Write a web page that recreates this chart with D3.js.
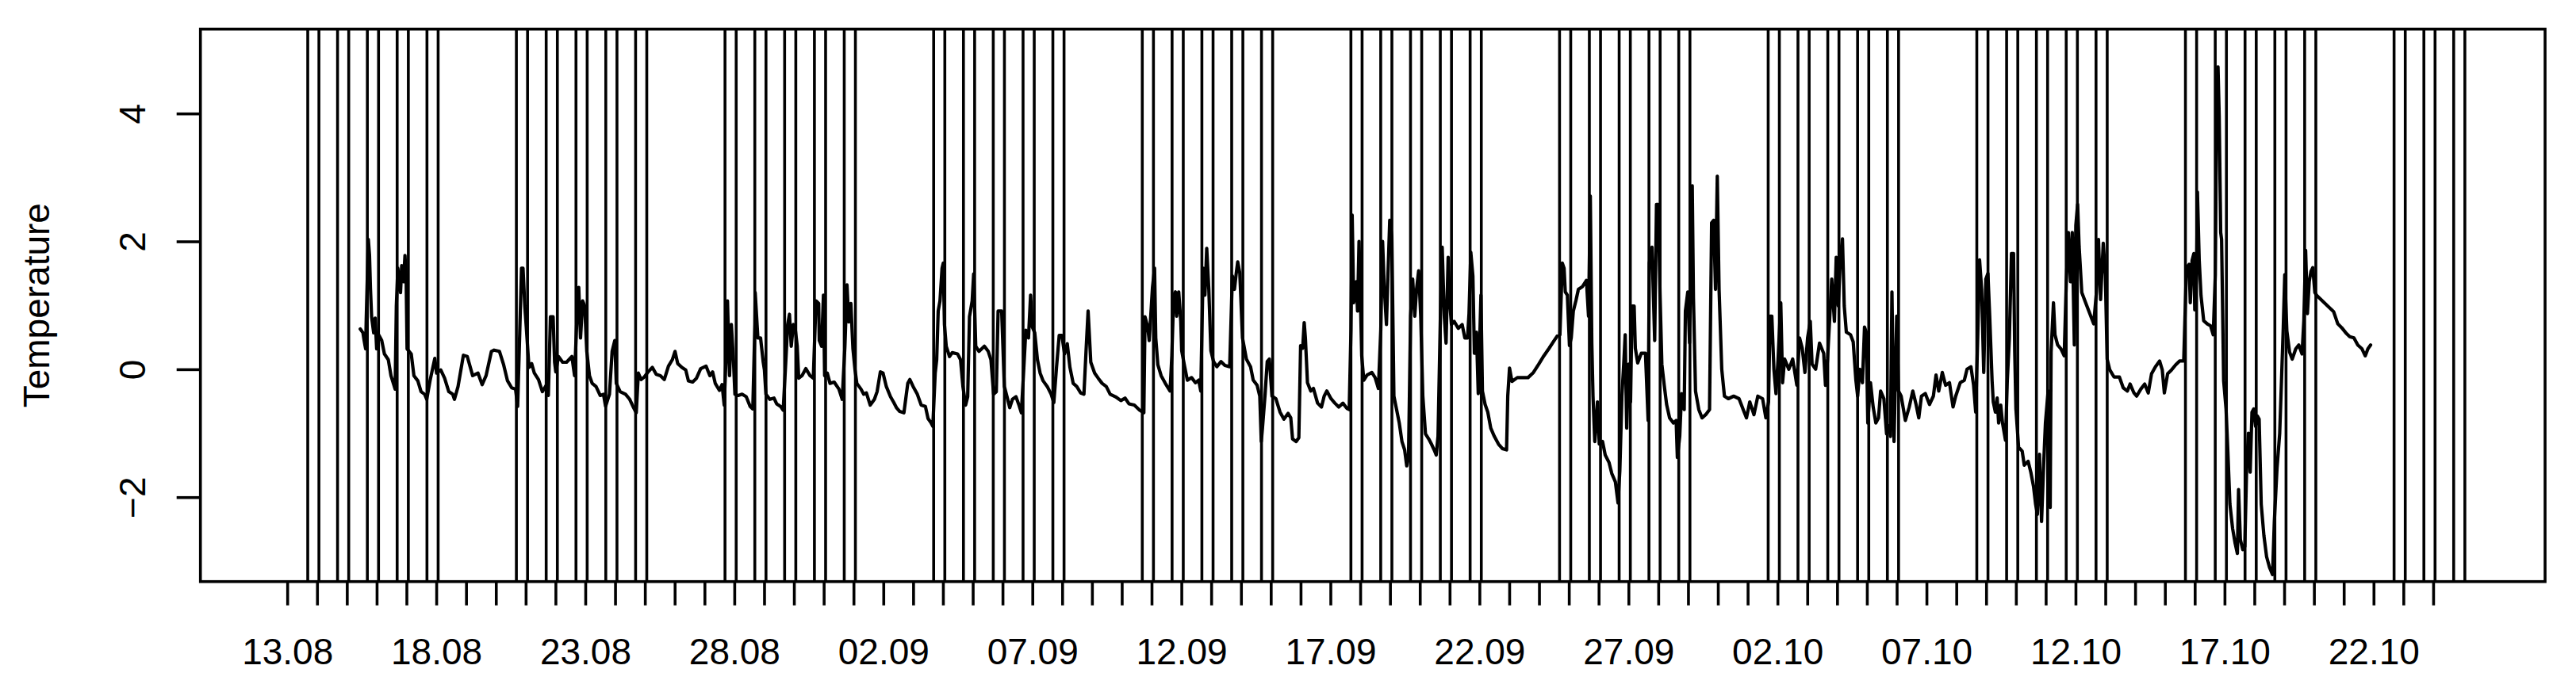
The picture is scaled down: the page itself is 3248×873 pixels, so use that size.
<!DOCTYPE html>
<html>
<head>
<meta charset="utf-8">
<script src="https://cdn.jsdelivr.net/npm/d3@7"></script>
<style>
html,body{margin:0;padding:0;background:#ffffff;}
svg{display:block;}
text{font-family:"Liberation Sans", Arial, Helvetica, sans-serif;fill:#000;}
</style>
</head>
<body>
<svg id="chart" width="3248" height="873"></svg>
<script>
// ---------------- data ----------------
const startDate = "2018-08-13";          // day 0 of the series (13.08)
const xRangeDays = [0, 72.84];           // data range on the time axis, in days after 13.08
const yRange = [-3, 5];                  // data range on the temperature axis
const yTicks = [-2, 0, 2, 4];
const tickLabels = ["13.08","18.08","23.08","28.08","02.09","07.09","12.09","17.09","22.09","27.09","02.10","07.10","12.10","17.10","22.10"];
const tickLabelDays = [0,5,10,15,20,25,30,35,40,45,50,55,60,65,70];
const lastTickDay = 72;
const yLabel = "Temperature";

// working days marked by vertical lines, each with two marks (hours after midnight)
const markerDates = [
  "2018-08-13","2018-08-14","2018-08-15","2018-08-16","2018-08-17",
  "2018-08-20","2018-08-21","2018-08-22","2018-08-23","2018-08-24",
  "2018-08-27","2018-08-28","2018-08-29","2018-08-30","2018-08-31",
  "2018-09-03","2018-09-04","2018-09-05","2018-09-06","2018-09-07",
  "2018-09-10","2018-09-11","2018-09-12","2018-09-13","2018-09-14",
  "2018-09-17","2018-09-18","2018-09-19","2018-09-20","2018-09-21",
  "2018-09-24","2018-09-25","2018-09-26","2018-09-27","2018-09-28",
  "2018-10-01","2018-10-02","2018-10-03","2018-10-04","2018-10-05",
  "2018-10-08","2018-10-09","2018-10-10","2018-10-11","2018-10-12",
  "2018-10-15","2018-10-16","2018-10-17","2018-10-18","2018-10-19",
  "2018-10-22","2018-10-23","2018-10-24"
];
const markerHours = [16.5, 25.5];

// series: time (days after 13.08 00:00) and temperature
const timeDays = [
2.45,2.54,2.58,2.63,2.65,2.72,2.76,2.79,2.83,2.90,2.95,3.00,3.08,3.17,3.26,3.39,3.48,3.62,3.66,3.71,
3.80,3.84,3.90,3.95,3.99,4.02,4.16,4.25,4.38,4.49,4.61,4.68,4.79,4.95,5.01,5.15,5.28,5.42,5.55,5.61,
5.73,5.91,6.04,6.22,6.40,6.54,6.67,6.85,6.94,7.12,7.26,7.39,7.53,7.66,7.73,7.80,7.86,7.91,7.97,8.02,
8.11,8.20,8.29,8.43,8.56,8.70,8.76,8.83,8.92,8.97,9.01,9.10,9.24,9.37,9.55,9.64,9.71,9.78,9.84,9.91,
9.98,10.05,10.14,10.23,10.36,10.50,10.61,10.68,10.81,10.90,10.99,11.04,11.17,11.35,11.49,11.62,11.71,11.78,11.87,11.98,
12.11,12.25,12.38,12.52,12.65,12.79,12.92,13.01,13.10,13.24,13.37,13.46,13.60,13.73,13.87,14.05,14.18,14.27,14.36,14.50,
14.59,14.66,14.72,14.77,14.84,14.90,14.97,15.02,15.13,15.26,15.40,15.53,15.62,15.69,
15.70,15.79,15.88,15.97,16.01,16.06,16.19,16.33,16.42,16.55,16.64,16.73,16.79,16.85,16.91,16.98,17.05,17.11,17.16,17.27,
17.40,17.54,17.65,17.74,17.83,17.85,17.93,17.99,18.03,18.12,18.21,18.35,18.51,18.62,18.71,18.78,18.84,18.91,18.98,19.05,
19.11,19.25,19.34,19.43,19.56,19.70,19.79,19.90,19.99,20.10,20.24,20.35,20.44,20.55,20.69,20.82,20.89,21.00,21.14,21.27,
21.41,21.50,21.59,21.66,21.74,21.79,21.84,21.90,21.97,22.01,22.05,22.11,22.22,22.31,22.49,22.59,22.67,22.76,22.83,22.89,
22.98,23.03,23.10,23.21,23.39,23.52,23.61,23.70,23.79,23.85,23.97,24.06,24.15,24.24,24.33,24.45,24.55,24.63,24.69,24.78,
24.87,24.94,25.00,25.08,25.17,25.26,25.36,25.50,25.63,25.72,25.81,25.90,25.99,26.08,26.17,26.26,26.37,26.49,26.62,26.73,
26.80,26.87,26.96,27.09,27.21,27.34,27.48,27.61,27.79,27.97,28.11,28.24,28.42,28.60,28.74,28.78,28.87,28.92,28.96,29.03,
29.10,29.14,29.21,29.32,29.46,
29.62,29.68,29.74,29.80,29.84,29.91,29.98,30.01,30.11,30.20,30.34,30.47,30.58,30.65,30.73,30.79,30.85,30.92,30.99,31.08,
31.19,31.33,31.46,31.62,31.71,31.78,31.84,31.89,31.96,32.05,32.18,32.32,32.41,32.54,32.63,32.68,32.72,32.81,32.88,32.95,
33.04,33.17,33.31,33.44,33.58,33.67,33.73,33.85,33.94,34.00,34.07,34.12,34.16,34.23,34.34,34.43,34.57,34.70,34.79,34.88,
35.02,35.15,35.28,35.42,35.55,35.63,35.69,35.73,35.78,35.87,35.91,35.96,36.00,36.05,36.12,36.23,36.39,36.50,36.61,36.69,
36.75,36.81,36.88,36.93,36.99,37.06,37.13,37.22,37.31,37.40,37.49,37.56,37.62,37.69,37.76,37.83,37.89,37.96,38.03,38.10,
38.19,38.30,38.39,38.48,38.55,38.61,38.69,38.75,38.82,38.88,38.95,39.00,39.06,39.15,39.29,39.42,39.51,39.60,39.65,39.71,
39.78,39.83,39.90,39.96,40.05,40.10,40.19,40.28,40.38,40.50,40.64,40.77,40.91,40.95,41.01,41.09,41.27,41.45,41.63,41.81,
41.99,42.16,42.34,42.48,42.61,42.70,42.78,42.84,42.88,42.95,43.02,43.08,43.15,43.24,
43.32,43.45,43.59,43.66,43.72,43.77,43.81,43.87,43.96,44.02,44.13,44.22,44.35,44.44,44.56,44.65,44.71,44.78,44.85,44.89,
44.94,45.01,45.07,45.12,45.19,45.23,45.31,45.43,45.57,45.61,45.66,45.70,45.79,45.88,45.94,46.00,46.06,46.12,46.20,46.28,
46.38,46.51,46.60,46.64,46.72,46.78,46.87,46.91,46.99,47.05,47.14,47.18,47.25,47.36,47.47,47.59,47.72,47.79,47.86,47.92,
47.98,48.04,48.13,48.22,48.35,48.53,48.71,48.85,48.96,49.07,49.21,49.34,49.50,49.61,49.70,49.75,49.81,49.88,49.95,50.02,
50.11,50.17,50.24,50.38,50.51,50.65,50.74,50.83,50.92,51.01,51.10,51.16,51.28,51.41,51.55,51.61,51.68,51.82,51.91,51.97,
52.04,52.11,52.18,52.24,52.31,52.45,52.54,52.63,52.69,52.76,52.85,52.92,52.98,53.03,53.12,53.21,53.30,53.39,53.46,53.57,
53.66,53.75,53.79,53.84,53.91,54.00,54.06,54.15,54.29,54.42,54.54,54.65,54.74,54.83,54.96,55.10,55.23,55.32,55.41,55.53,
55.64,55.77,55.89,55.98,56.13,56.27,56.36,56.49,56.58,56.65,56.72,56.78,56.85,56.92,56.99,57.06,57.12,
57.20,57.24,57.31,57.37,57.42,57.49,57.55,57.65,57.71,57.78,57.85,57.92,57.96,58.00,58.09,58.21,58.28,58.41,58.50,58.59,
58.66,58.72,58.79,58.86,58.93,58.99,59.08,59.15,59.18,59.26,59.31,59.40,59.51,59.62,59.69,59.76,59.83,59.89,59.96,60.01,
60.07,60.12,60.21,60.34,60.48,60.61,60.70,60.77,60.84,60.93,61.00,61.06,61.15,61.29,61.47,61.60,61.74,61.83,61.96,62.05,
62.19,62.32,62.44,62.55,62.68,62.82,62.91,62.98,63.09,63.22,63.36,63.49,63.63,63.72,63.81,63.85,63.91,63.97,64.00,64.06,
64.09,64.15,64.21,64.30,64.42,64.53,64.62,64.69,64.73,64.78,64.82,64.87,64.90,64.97,65.05,65.11,65.18,65.27,65.35,65.43,
65.47,65.53,65.61,65.68,65.74,65.80,65.86,65.92,65.98,66.04,66.10,66.16,66.23,66.32,66.41,66.51,66.61,66.67,66.76,66.85,
66.91,66.97,67.02,67.09,67.18,67.27,67.39,67.49,67.60,67.66,67.72,67.78,67.84,67.90,67.96,68.03,68.10,68.30,68.48,68.66,
68.80,68.93,69.07,69.20,69.34,69.47,69.61,69.72,69.81,69.90
];
const temperature = [
0.63,0.57,0.45,0.32,0.78,2.03,1.78,1.28,0.82,0.57,0.80,0.32,0.53,0.45,0.24,0.15,-0.10,-0.31,0.99,1.58,
1.20,1.62,1.37,1.78,1.41,0.32,0.24,-0.10,-0.18,-0.35,-0.39,-0.47,-0.18,0.17,-0.06,-0.01,-0.14,-0.35,-0.39,-0.47,
-0.27,0.22,0.20,-0.10,-0.06,-0.24,-0.10,0.28,0.30,0.28,0.07,-0.18,-0.29,-0.31,-0.58,0.57,1.58,1.58,0.99,0.66,
0.03,0.09,-0.06,-0.16,-0.35,-0.24,-0.41,0.82,0.82,0.11,-0.04,0.20,0.11,0.11,0.20,-0.10,0.70,1.28,0.49,1.07,
0.99,0.28,-0.10,-0.22,-0.27,-0.41,-0.39,-0.58,-0.39,0.28,0.45,-0.22,-0.35,-0.39,-0.47,-0.60,-0.68,-0.06,-0.16,-0.12,
-0.04,0.03,-0.08,-0.10,-0.16,0.05,0.15,0.28,0.09,0.03,-0.01,-0.18,-0.20,-0.14,0.01,0.05,-0.10,-0.04,-0.22,-0.33,
-0.24,-0.56,0.15,1.07,-0.10,0.70,0.15,-0.39,-0.41,-0.39,-0.43,-0.58,-0.62,0.70,
1.20,0.49,0.49,0.11,-0.01,-0.39,-0.47,-0.45,-0.54,-0.58,-0.64,0.15,0.70,0.86,0.36,0.70,0.61,0.36,-0.14,-0.10,
0.01,-0.10,-0.14,1.07,1.03,0.45,0.36,1.16,-0.10,-0.06,-0.22,-0.20,-0.31,-0.47,0.36,1.32,0.74,1.03,0.32,-0.01,
-0.22,-0.31,-0.39,-0.37,-0.56,-0.47,-0.35,-0.04,-0.06,-0.27,-0.43,-0.52,-0.60,-0.66,-0.68,-0.22,-0.16,-0.27,-0.39,-0.56,
-0.58,-0.77,-0.83,-0.89,-0.06,0.15,0.91,1.07,1.58,1.66,0.70,0.36,0.20,0.26,0.24,0.15,-0.27,-0.56,-0.43,0.82,
1.07,1.49,0.36,0.28,0.36,0.28,0.15,-0.39,-0.35,0.91,0.91,-0.27,-0.43,-0.60,-0.47,-0.43,-0.56,-0.68,-0.18,0.61,
0.49,1.16,0.66,0.57,0.15,-0.06,-0.18,-0.27,-0.39,-0.52,0.03,0.53,0.53,0.24,0.40,0.03,-0.22,-0.27,-0.37,-0.39,
0.28,0.91,0.11,-0.06,-0.14,-0.22,-0.27,-0.39,-0.43,-0.49,-0.45,-0.54,-0.56,-0.64,-0.68,0.82,0.66,0.45,0.74,1.28,
1.58,0.49,0.07,-0.10,-0.22,
-0.34,0.21,1.16,1.21,0.83,1.21,0.75,0.29,0.04,-0.17,-0.13,-0.21,-0.17,-0.34,1.58,1.16,1.89,1.25,0.29,0.12,
0.04,0.12,0.06,0.04,1.46,1.25,1.50,1.68,1.50,0.49,0.16,0.04,-0.17,-0.25,-0.42,-1.13,-0.92,-0.38,0.12,0.16,
-0.42,-0.46,-0.67,-0.78,-0.69,-0.76,-1.09,-1.13,-1.07,0.37,0.33,0.73,0.49,-0.21,-0.34,-0.30,-0.53,-0.59,-0.42,-0.34,
-0.46,-0.53,-0.59,-0.53,-0.61,-0.63,0.62,2.41,1.04,1.37,0.91,2.00,1.25,0.21,-0.17,-0.09,-0.05,-0.13,-0.30,0.62,
2.00,1.25,0.70,1.46,2.33,2.08,-0.42,-0.63,-0.84,-1.13,-1.26,-1.51,-1.38,0.83,1.41,0.83,1.25,1.54,0.83,-0.42,
-1.01,-1.09,-1.17,-1.26,-1.34,-1.05,0.83,1.91,0.83,0.41,1.75,1.08,0.70,0.75,0.64,0.70,0.49,0.49,0.87,1.83,
1.46,0.25,0.58,-0.38,1.16,-0.34,-0.55,-0.67,-0.92,-1.05,-1.17,-1.24,-1.26,-0.42,0.02,-0.19,-0.13,-0.13,-0.13,-0.05,
0.08,0.21,0.33,0.43,0.52,0.54,1.66,1.58,1.21,1.16,0.37,0.49,0.91,1.08,
1.25,1.29,1.39,0.83,2.71,0.41,-0.42,-1.13,-0.51,-1.17,-1.13,-1.34,-1.46,-1.63,-1.76,-2.09,-1.59,-0.42,0.16,0.54,
-0.92,0.08,-0.51,0.99,0.99,0.33,0.10,0.25,0.25,-0.21,-0.80,1.66,1.91,0.45,2.58,2.58,1.16,0.08,-0.25,-0.55,
-0.76,-0.84,-0.80,-1.38,-1.05,-0.38,-0.63,0.91,1.21,0.41,2.87,1.12,-0.34,-0.63,-0.76,-0.71,-0.63,2.29,2.33,1.25,
3.02,1.25,0.00,-0.42,-0.46,-0.42,-0.46,-0.63,-0.76,-0.51,-0.71,-0.42,-0.46,-0.76,-0.51,0.83,0.83,0.00,-0.38,0.16,
1.04,-0.21,0.16,0.00,0.16,-0.25,0.49,0.33,-0.05,0.49,0.75,0.08,0.00,0.41,0.25,-0.25,0.16,1.41,0.75,1.75,
0.99,1.75,2.04,0.99,0.58,0.54,0.43,-0.17,-0.42,0.00,-0.21,0.66,0.58,-0.84,-0.21,-0.59,-0.84,-0.76,-0.34,-0.46,
-1.01,-0.88,-1.05,1.21,-1.13,0.83,-0.34,-0.42,-0.80,-0.59,-0.34,-0.55,-0.76,-0.42,-0.38,-0.55,-0.42,-0.09,-0.34,-0.05,
-0.25,-0.21,-0.59,-0.42,-0.21,-0.17,0.00,0.04,-0.25,-0.67,0.54,1.71,1.25,-0.05,1.41,1.50,0.83,
-0.18,-0.51,-0.67,-0.45,-0.84,-0.56,-0.84,-1.11,-0.18,0.49,1.81,1.81,0.27,-0.62,-1.22,-1.28,-1.50,-1.44,-1.61,-1.83,
-2.11,-2.27,-1.33,-2.38,-1.50,-0.84,-0.34,-2.16,0.27,1.04,0.54,0.38,0.32,0.21,1.37,2.14,1.37,2.14,0.38,2.25,
2.58,1.92,1.20,1.04,0.87,0.71,1.20,2.03,1.09,1.97,1.48,0.16,-0.01,-0.12,-0.12,-0.29,-0.34,-0.23,-0.37,-0.42,
-0.31,-0.23,-0.37,-0.07,0.04,0.13,-0.01,-0.37,-0.07,-0.01,0.07,0.13,0.13,1.59,1.64,1.04,1.70,1.81,0.93,1.48,
2.77,1.70,1.15,0.76,0.71,0.68,0.54,1.48,3.90,4.73,3.96,2.14,2.03,-0.18,-0.62,-1.28,-2.11,-2.49,-2.71,-2.88,
-1.88,-2.66,-2.82,-2.77,-1.55,-1.00,-1.61,-0.67,-0.62,-0.89,-0.73,-0.78,-2.11,-2.60,-2.93,-3.10,-3.21,-2.38,-1.55,-1.00,
-0.18,0.65,1.48,0.60,0.27,0.16,0.32,0.38,0.24,0.76,1.86,0.87,1.37,1.53,1.59,1.20,1.15,1.06,0.98,0.90,
0.71,0.65,0.57,0.51,0.49,0.38,0.32,0.21,0.32,0.38
];

// ---------------- drawing ----------------
const DAY = 864e5;
const base = d3.utcParse("%Y-%m-%d")(startDate);
const atDay = d => new Date(base.getTime() + d * DAY);

const plot = {left: 252.7, right: 3209, top: 36.7, bottom: 733.7};
const LW = 3.6;
const SERIES_LW = 4.2;
const FS = 46;

const xSpan = xRangeDays[1] - xRangeDays[0];
const ySpan = yRange[1] - yRange[0];
const x = d3.scaleUtc()
  .domain([atDay(xRangeDays[0] - 0.04 * xSpan), atDay(xRangeDays[1] + 0.04 * xSpan)])
  .range([plot.left, plot.right]);
const y = d3.scaleLinear()
  .domain([yRange[0] - 0.04 * ySpan, yRange[1] + 0.04 * ySpan])
  .range([plot.bottom, plot.top]);

const svg = d3.select("#chart");
svg.append("rect").attr("width", 3248).attr("height", 873).attr("fill", "#fff");

svg.append("defs").append("clipPath").attr("id", "clip")
  .append("rect")
  .attr("x", plot.left).attr("y", plot.top)
  .attr("width", plot.right - plot.left).attr("height", plot.bottom - plot.top);

const inner = svg.append("g").attr("clip-path", "url(#clip)");

// vertical marker lines
const parseDay = d3.utcParse("%Y-%m-%d");
const markers = [];
markerDates.forEach(ds => {
  const d0 = parseDay(ds).getTime();
  markerHours.forEach(h => markers.push(new Date(d0 + h * 3600e3)));
});
inner.selectAll("line.marker").data(markers).join("line")
  .attr("class", "marker")
  .attr("x1", d => x(d)).attr("x2", d => x(d))
  .attr("y1", y.range()[1]).attr("y2", y.range()[0])
  .attr("stroke", "#000").attr("stroke-width", LW);

// temperature series
const series = timeDays.map((t, i) => ({date: atDay(t), value: temperature[i]}));
inner.append("path")
  .datum(series)
  .attr("fill", "none")
  .attr("stroke", "#000")
  .attr("stroke-width", SERIES_LW)
  .attr("stroke-linejoin", "round")
  .attr("stroke-linecap", "round")
  .attr("d", d3.line().x(d => x(d.date)).y(d => y(d.value)));

// box
svg.append("rect")
  .attr("x", plot.left).attr("y", plot.top)
  .attr("width", plot.right - plot.left).attr("height", plot.bottom - plot.top)
  .attr("fill", "none").attr("stroke", "#000").attr("stroke-width", LW);

// x axis: a tick every day, labels every five days
const dayTicks = d3.range(0, lastTickDay + 1).map(atDay);
const labelMap = new Map(tickLabelDays.map((d, i) => [atDay(d).getTime(), tickLabels[i]]));
const xAxis = d3.axisBottom(x)
  .tickValues(dayTicks)
  .tickSize(30)
  .tickPadding(0)
  .tickFormat(d => labelMap.get(d.getTime()) || "");
const gx = svg.append("g").attr("transform", `translate(0,${plot.bottom})`).call(xAxis);
gx.select(".domain").remove();
gx.selectAll(".tick line").attr("stroke", "#000").attr("stroke-width", LW);
gx.selectAll(".tick text")
  .attr("y", 838 - plot.bottom).attr("dy", null)
  .style("font-size", FS + "px")
  .style("font-family", '"Liberation Sans", Arial, Helvetica, sans-serif')
  .attr("fill", "#000");

// y axis
const yAxis = d3.axisLeft(y).tickValues(yTicks).tickSize(30).tickPadding(0).tickFormat(d3.format("d"));
const gy = svg.append("g").attr("transform", `translate(${plot.left},0)`).call(yAxis);
gy.select(".domain").remove();
gy.selectAll(".tick line").attr("stroke", "#000").attr("stroke-width", LW);
gy.selectAll(".tick text")
  .attr("x", null).attr("dy", null)
  .attr("text-anchor", "middle")
  .attr("transform", `translate(${183 - plot.left},0) rotate(-90)`)
  .text(d => d < 0 ? "\u2212" + Math.abs(d) : String(d))
  .style("font-size", FS + "px")
  .style("font-family", '"Liberation Sans", Arial, Helvetica, sans-serif')
  .attr("fill", "#000");

// axis title
svg.append("text")
  .attr("transform", `translate(62,${(plot.top + plot.bottom) / 2}) rotate(-90)`)
  .attr("text-anchor", "middle")
  .style("font-size", FS + "px")
  .text(yLabel);
</script>
</body>
</html>
